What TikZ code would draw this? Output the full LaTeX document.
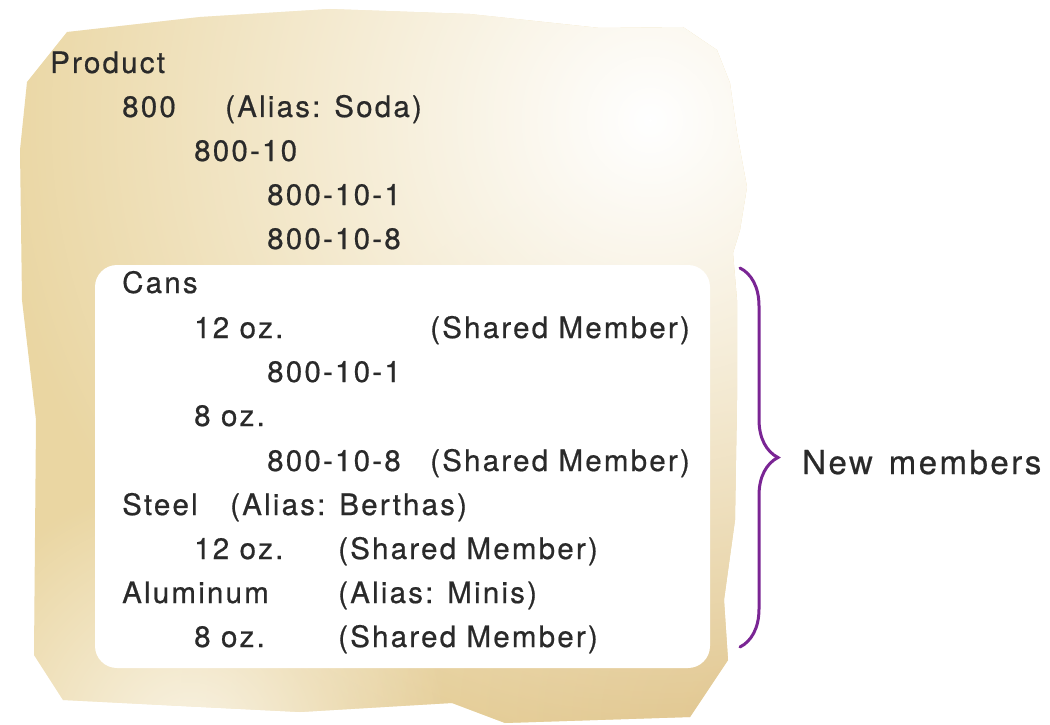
\documentclass[tikz,border=0pt]{standalone}
\usepackage{fontspec}
\usetikzlibrary{decorations.pathreplacing,fadings}
\newfontfamily\lblfont[LetterSpace=7.5,FakeBold=0.6]{TeX Gyre Heros}
\newcommand\lbl{\lblfont\fontsize{29.5}{32}\selectfont}
\definecolor{ink}{HTML}{2A2A2A}
\definecolor{paper}{HTML}{EAD6A2}
\definecolor{paperdk}{HTML}{DFC286}
\definecolor{plum}{HTML}{7A2594}
\tikzfading[name=glow,inner color=transparent!0,outer color=transparent!100]
\tikzset{
  txt/.style={anchor=base west,inner sep=0pt,font=\lbl,text=ink},
  bigtxt/.style={txt,font=\lbl\fontsize{33}{36}\selectfont},
  card/.style={fill=white,rounded corners=22pt,inner sep=0pt},
  brace/.style={decorate,decoration={brace,amplitude=38pt},draw=plum,line width=3pt,line cap=round},
}

\begin{document}
\begin{tikzpicture}[x=1pt,y=-1pt]
  \useasboundingbox (0,0) rectangle (1050,725);
  % torn sheet
  \begin{scope}
    \clip (27,82) -- (67,32) -- (200,17) -- (330,9) -- (470,14) -- (600,28) -- (683,27)
      -- (717,50) -- (730,83) -- (737,133) -- (747,187) -- (740,230) -- (733,253) -- (737,300)
      -- (737,400) -- (735,520) -- (724,600) -- (728,660) -- (690,717) -- (505,723) -- (452,703)
      -- (300,712) -- (63,700) -- (34,655) -- (36,420) -- (22,300) -- (20,150) -- cycle;
    \fill[paper] (0,0) rectangle (760,725);
    \fill[paperdk,path fading=glow] (740,720) circle (560);
    \fill[white,path fading=glow] (650,120) circle (660);
    \fill[white,path fading=glow,opacity=.7] (190,740) circle (260);
  \end{scope}
  \node[card,minimum width=615pt,minimum height=403pt] (members) at (402.5,466.5) {};

  \node[txt] (product) at (50,73) {Product};
  \node[txt] (p800) at (122,117) {800};
  \node[txt] (soda) at (225,117) {(Alias: Soda)};
  \node[txt] (p80010) at (194,161) {800-10};
  \node[txt] (p1a) at (267,205) {800-10-1};
  \node[txt] (p8a) at (267,249) {800-10-8};

  \node[txt] (cans) at (122,293) {Cans};
  \node[txt] (c12) at (194,338) {12 oz.};
  \node[txt] (c12s) at (430,338) {(Shared Member)};
  \node[txt] (p1b) at (267,382) {800-10-1};
  \node[txt] (c8) at (194,426) {8 oz.};
  \node[txt] (p8b) at (267,471) {800-10-8};
  \node[txt] (p8bs) at (430,471) {(Shared Member)};
  \node[txt] (steel) at (122,515) {Steel};
  \node[txt] (berthas) at (230,515) {(Alias: Berthas)};
  \node[txt] (s12) at (194,559) {12 oz.};
  \node[txt] (s12s) at (338,559) {(Shared Member)};
  \node[txt] (alu) at (122,603) {Aluminum};
  \node[txt] (minis) at (338,603) {(Alias: Minis)};
  \node[txt] (a8) at (194,647) {8 oz.};
  \node[txt] (a8s) at (338,647) {(Shared Member)};

  \coordinate (btop) at (740,268);
  \coordinate (bbot) at (740,647);
  \draw[brace] (btop) -- (bbot);
  \node[bigtxt] (newmem) at (802,474) {New\hspace{16pt}members};
\end{tikzpicture}
\end{document}
